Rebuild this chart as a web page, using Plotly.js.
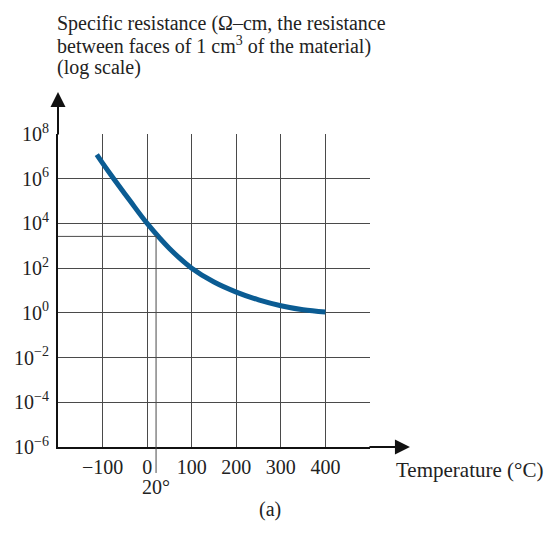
<!DOCTYPE html>
<html>
<head>
<meta charset="utf-8">
<script src="https://cdn.plot.ly/plotly-3.0.1.min.js"></script>
<style>html,body{margin:0;padding:0;background:#fff;}#chart{width:548px;height:545px;}</style>
</head>
<body>
<div id="chart"></div>
<script>
// Data (temperature in °C, log10 of specific resistance in Ω-cm)
const temperature = [-113, -100, -75, -38, 0, 50, 100, 150, 200, 250, 300, 350, 400];
const logResistance = [7.08, 6.7, 6.0, 5.0, 4.0, 2.88, 2.0, 1.38, 0.93, 0.58, 0.32, 0.14, 0.04];
const xTickVals = [-100, 0, 100, 200, 300, 400, 500];
const xTickText = ['\u2212100', '0', '100', '200', '300', '400', ''];
const yTickVals = [1e-6, 1e-4, 1e-2, 1e0, 1e2, 1e4, 1e6, 1e8];
const yTickText = ['10<sup>\u22126</sup>', '10<sup>\u22124</sup>', '10<sup>\u22122</sup>', '10<sup>0</sup>',
                   '10<sup>2</sup>', '10<sup>4</sup>', '10<sup>6</sup>', '10<sup>8</sup>'];
const titleLines = ['Specific resistance (\u03A9\u2013cm, the resistance',
                    'between faces of 1 cm<sup>3</sup> of the material)',
                    '(log scale)'];
const roomTemp = 20;
const roomLogRes = 3.42;

const resistance = logResistance.map(v => Math.pow(10, v));
const font = 'Liberation Serif, Times New Roman, serif';
const ink = '#222';
const grid = '#4a4a4a';

const trace = {
  x: temperature, y: resistance, type: 'scatter', mode: 'lines',
  line: {color: '#0b5c93', width: 5, shape: 'spline', smoothing: 1},
  hoverinfo: 'skip'
};

const titleY = [1.3546, 1.2827, 1.2109];
const titleAnns = titleLines.map((t, i) => ({
  xref: 'paper', yref: 'paper', x: -0.01, y: titleY[i], xanchor: 'left', yanchor: 'middle',
  showarrow: false, text: t, font: {family: font, size: 20, color: ink}
}));

const layout = {
  width: 548, height: 545,
  margin: {l: 58, r: 178, t: 134, b: 98},
  paper_bgcolor: '#fff', plot_bgcolor: '#fff',
  showlegend: false,
  font: {family: font, color: ink, size: 20},
  xaxis: {
    range: [-200, 500], tickvals: xTickVals, ticktext: xTickText,
    showgrid: true, gridcolor: grid, gridwidth: 1, zeroline: false,
    showline: true, linecolor: '#111', linewidth: 2,
    ticks: 'outside', ticklen: 1, tickcolor: 'rgba(0,0,0,0)',
    tickfont: {family: font, size: 20, color: ink}, fixedrange: true
  },
  yaxis: {
    type: 'log', range: [-6, 8], tickvals: yTickVals, ticktext: yTickText,
    showgrid: true, gridcolor: grid, gridwidth: 1, zeroline: false,
    showline: true, linecolor: '#111', linewidth: 2,
    ticks: 'outside', ticklen: 3, tickcolor: 'rgba(0,0,0,0)',
    tickfont: {family: font, size: 20, color: ink}, fixedrange: true
  },
  shapes: [
    {type: 'line', xref: 'x', yref: 'y', x0: -200, x1: roomTemp,
     y0: Math.pow(10, roomLogRes), y1: Math.pow(10, roomLogRes), line: {color: grid, width: 1}},
    {type: 'line', xref: 'x', yref: 'y', x0: roomTemp, x1: roomTemp,
     y0: Math.pow(10, roomLogRes), y1: 1e-6, line: {color: grid, width: 1}},
    {type: 'line', xref: 'x', yref: 'paper', x0: roomTemp, x1: roomTemp,
     y0: 0, y1: -0.083, line: {color: grid, width: 1}}
  ],
  annotations: titleAnns.concat([
    {xref: 'paper', yref: 'paper', x: 0, y: 1.134, ax: 0, ay: 44,
     showarrow: true, arrowhead: 2, arrowsize: 1.5, arrowwidth: 2, arrowcolor: '#111', text: ''},
    {xref: 'paper', yref: 'paper', x: 1.128, y: 0, ax: -42, ay: 0,
     showarrow: true, arrowhead: 2, arrowsize: 1.5, arrowwidth: 2, arrowcolor: '#111', text: ''},
    {xref: 'paper', yref: 'paper', x: 1.32, y: -0.073, xanchor: 'center', yanchor: 'middle', showarrow: false,
     text: 'Temperature (\u00B0C)', font: {family: font, size: 21, color: ink}},
    {xref: 'x', yref: 'paper', x: roomTemp, y: -0.128, xanchor: 'center', yanchor: 'middle', showarrow: false,
     text: '20\u00B0', font: {family: font, size: 20, color: ink}},
    {xref: 'paper', yref: 'paper', x: 0.679, y: -0.201, xanchor: 'center', yanchor: 'middle', showarrow: false,
     text: '(a)', font: {family: font, size: 20, color: ink}}
  ])
};

Plotly.newPlot('chart', [trace], layout, {staticPlot: true, displayModeBar: false});
</script>
</body>
</html>
